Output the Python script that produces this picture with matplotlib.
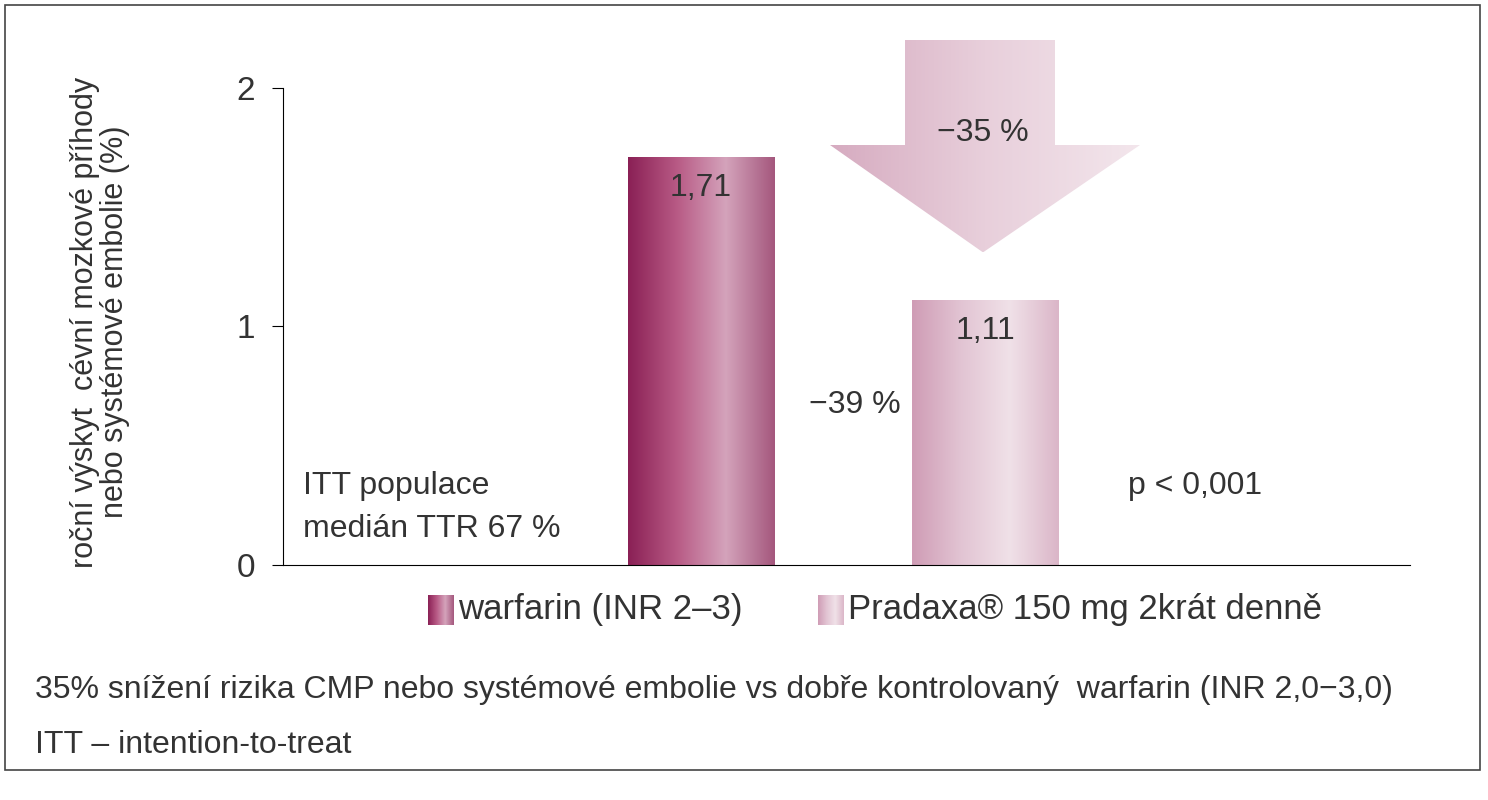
import matplotlib
matplotlib.use("Agg")
import matplotlib.pyplot as plt
import numpy as np
from matplotlib.patches import Rectangle, Polygon
from matplotlib.colors import LinearSegmentedColormap

categories = ["warfarin (INR 2\u20133)", "Pradaxa\u00ae 150 mg 2krát denně"]
values = [1.71, 1.11]
value_labels = ["1,71", "1,11"]
yticks = [0, 1, 2]
ytick_labels = ["0", "1", "2"]

plt.rcParams['font.family'] = ['Liberation Sans', 'DejaVu Sans']
dark = LinearSegmentedColormap.from_list("d", ["#8a2055", "#b85a85", "#d4a3bb", "#a4577d"])
light = LinearSegmentedColormap.from_list("l", ["#cf9cb5", "#e2c4d3", "#f0e1e8", "#dbb6c8"])
arrowc = LinearSegmentedColormap.from_list("a", ["#d6abc0", "#e8cfdb", "#f3e6ec"])
grad = np.linspace(0, 1, 256).reshape(1, -1)
tc = "#333333"

fig = plt.figure(figsize=(14.88, 8), dpi=100)
fig.patches.append(Rectangle((5/1488, 30/800), 1475/1488, 765/800, transform=fig.transFigure,
                             fill=False, ec="#444444", lw=1.2))
ax = fig.add_axes([283/1488, 235/800, 1127/1488, 525/800])
ax.set_xlim(0, 1127)
ax.set_ylim(0, 2.2)
for s in ["top", "right"]:
    ax.spines[s].set_visible(False)
ax.spines["left"].set_bounds(0, 2)
ax.set_xticks([])
ax.set_yticks(yticks)
ax.set_yticklabels(ytick_labels, fontsize=24, color=tc)
ax.tick_params(axis="y", direction="out", length=8, pad=12)

centers = [418, 702]
width = 147
cmaps = [dark, light]
for c, v, lab, cm in zip(centers, values, value_labels, cmaps):
    r = Rectangle((c - width/2, 0), width, v, fc="none", ec="none")
    ax.add_patch(r)
    im = ax.imshow(grad, cmap=cm, extent=[c - width/2, c + width/2, 0, v], aspect="auto", zorder=2)
    im.set_clip_path(r)
    ax.text(c, v - 0.07 - 0.06, lab, ha="center", va="center", fontsize=23, color=tc, zorder=3)

pts = [(622, 2.22), (772, 2.22), (772, 1.76), (857, 1.76), (700, 1.31), (547, 1.76), (622, 1.76)]
poly = Polygon(pts, closed=True, fc="none", ec="none")
ax.add_patch(poly)
im = ax.imshow(grad, cmap=arrowc, extent=[547, 857, 1.31, 2.22], aspect="auto", zorder=2)
im.set_clip_path(poly)
ax.set_xlim(0, 1127); ax.set_ylim(0, 2.2)
ax.text(700, 1.81, "\u221235 %", ha="center", va="center", fontsize=23, color=tc, zorder=3)
ax.text(572, 0.67, "\u221239 %", ha="center", va="center", fontsize=23, color=tc)
ax.text(912, 0.33, "p < 0,001", ha="center", va="center", fontsize=23, color=tc)
ax.text(20, 0.33, "ITT populace", ha="left", va="center", fontsize=23, color=tc)
ax.text(20, 0.15, "medián TTR 67 %", ha="left", va="center", fontsize=23, color=tc)

fig.text(100/1488, 1 - 322/800, "roční výskyt  cévní mozkové příhody\nnebo systémové embolie (%)",
         rotation=90, ha="center", va="center", fontsize=22, color=tc, linespacing=1.0)

for x0, lab, cm in zip([428, 818], categories, cmaps):
    lax = fig.add_axes([x0/1488, 1 - 625/800, 26/1488, 30/800])
    lax.imshow(grad, cmap=cm, aspect="auto")
    lax.axis("off")
    fig.text((x0 + 30)/1488, 1 - 610/800, lab, ha="left", va="center", fontsize=25, color=tc)

fig.text(35/1488, 1 - 690/800,
         "35% snížení rizika CMP nebo systémové embolie vs dobře kontrolovaný  warfarin (INR 2,0\u22123,0)",
         ha="left", va="center", fontsize=23, color=tc)
fig.text(35/1488, 1 - 745/800, "ITT \u2013 intention-to-treat", ha="left", va="center", fontsize=23, color=tc)

fig.savefig("out.png", dpi=100)
